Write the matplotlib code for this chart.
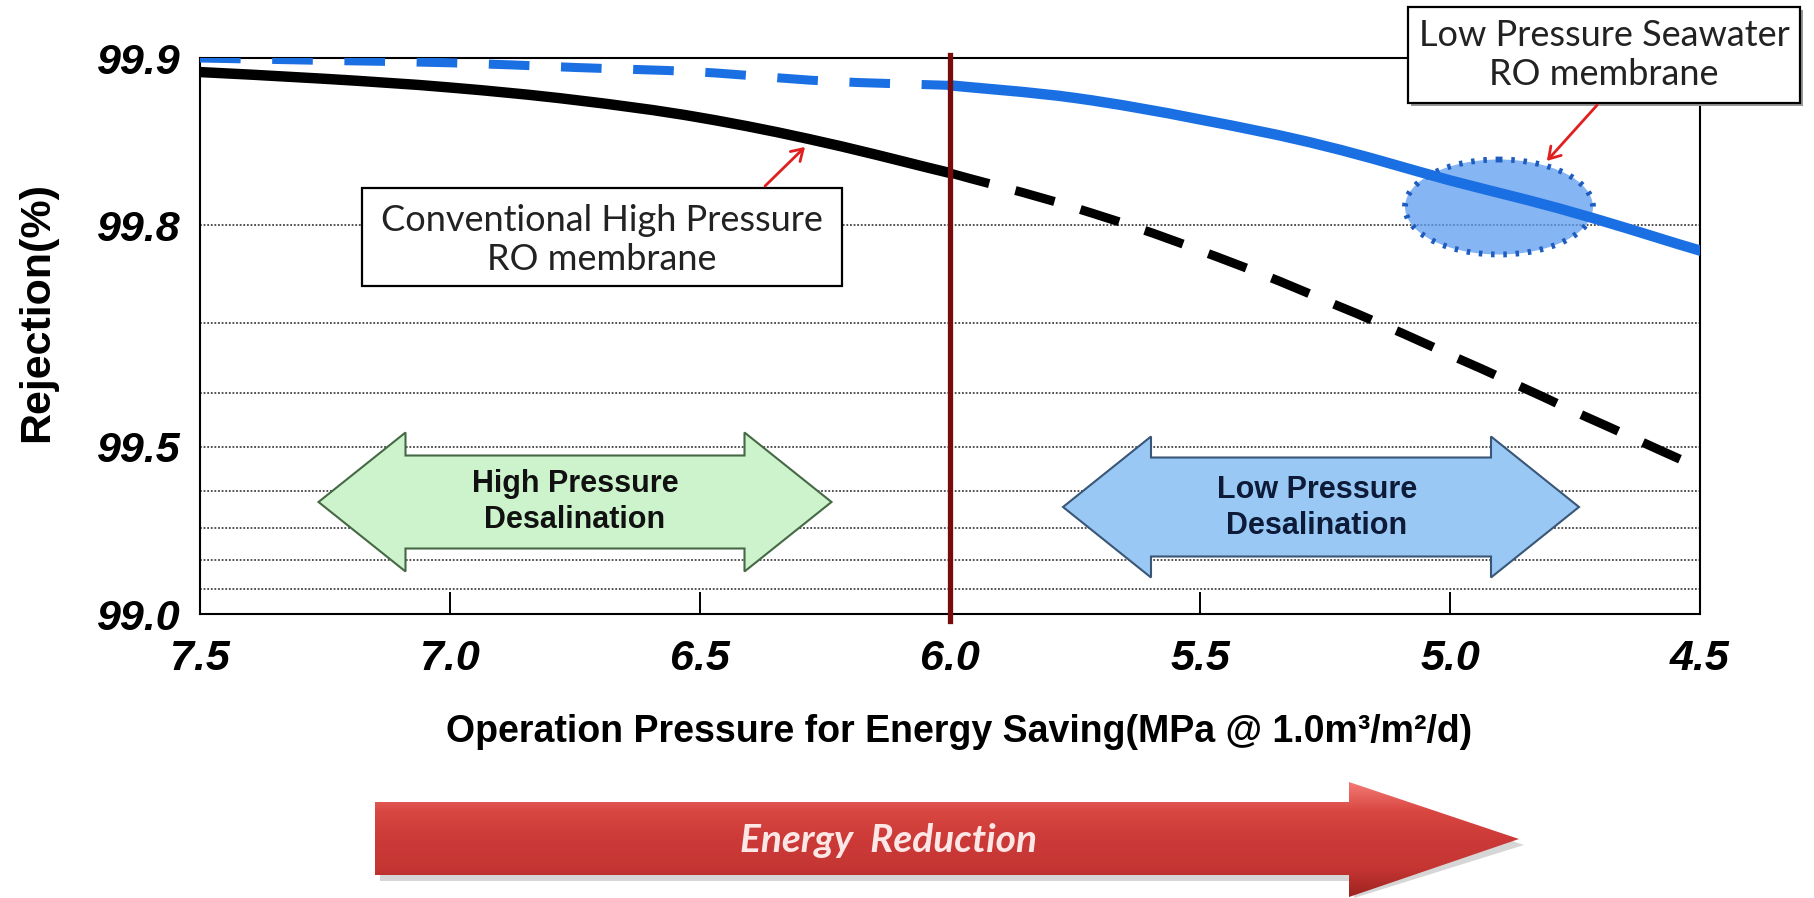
import numpy as np
import matplotlib
matplotlib.use("Agg")
import matplotlib.pyplot as plt
from matplotlib.patches import Polygon, Rectangle, Ellipse, FancyArrowPatch, PathPatch
from matplotlib.path import Path
from matplotlib.colors import LinearSegmentedColormap

# operation pressure (MPa) and salt rejection (%)
pressure = [7.5, 7.25, 7.0, 6.75, 6.5, 6.25, 6.0, 5.75, 5.5, 5.25, 5.0, 4.75, 4.5]
conventional = [99.894, 99.891, 99.887, 99.881, 99.872, 99.858, 99.839,
                99.814, 99.778, 99.727, 99.658, 99.567, 99.454]
low_pressure = [99.900, 99.899, 99.898, 99.896, 99.894, 99.890, 99.888,
                99.882, 99.871, 99.856, 99.834, 99.810, 99.778]
boundary = 6.0

x_ticks = [7.5, 7.0, 6.5, 6.0, 5.5, 5.0, 4.5]
y_ticks = [99.0, 99.5, 99.8, 99.9]
y_grid = [99.1, 99.2, 99.3, 99.4, 99.6, 99.7]

W, H = 1814, 898
fig = plt.figure(figsize=(W / 100, H / 100), dpi=100)
ax = fig.add_axes([200 / W, 1 - 614 / H, 1500 / W, 556 / H])

# y axis is logarithmic in salt passage (100 - rejection)
def fwd(r):
    return -np.log10(np.clip(100 - np.asarray(r, dtype=float), 1e-6, None))

def inv(v):
    return 100 - 10 ** (-np.asarray(v, dtype=float))

ax.set_yscale("function", functions=(fwd, inv))
ax.set_ylim(99.0, 99.9)
ax.set_xlim(7.5, 4.5)


def smooth_path(xs, ys):
    # smoothed line like the spreadsheet one: Catmull-Rom as cubic Bezier
    pts = np.column_stack([xs, ys])
    ext = np.vstack([pts[0], pts, pts[-1]])
    verts, codes = [pts[0]], [Path.MOVETO]
    for i in range(1, len(ext) - 2):
        p0, p1, p2, p3 = ext[i - 1], ext[i], ext[i + 1], ext[i + 2]
        verts += [p1 + (p2 - p0) / 6, p2 - (p3 - p1) / 6, p2]
        codes += [Path.CURVE4] * 3
    return Path(verts, codes)


p = np.array(pressure)
conv = np.array(conventional)
lp = np.array(low_pressure)
hi = p >= boundary
lo = p <= boundary

blue = "#1a6fe3"
styles = [
    (conv[hi], p[hi], dict(color="black", lw=7.5, capstyle="butt")),
    (conv[lo], p[lo], dict(color="black", lw=6.5, linestyle=(0, (4.5, 3)))),
    (lp[hi], p[hi], dict(color=blue, lw=6.5, linestyle=(0, (4.5, 3.5)))),
    (lp[lo], p[lo], dict(color=blue, lw=7.5, capstyle="round")),
]
for ys, xs, kw in styles:
    ax.add_patch(PathPatch(smooth_path(xs, ys), fill=False, zorder=4, **kw))

ax.axvline(boundary, ymin=-0.012, ymax=1.005, color="#780c0c", lw=3.8,
           clip_on=False, zorder=5)

ax.set_xticks(x_ticks)
ax.set_xticklabels([f"{v:.1f}" for v in x_ticks])
ax.set_yticks(y_ticks)
ax.set_yticklabels([f"{v:.1f}" for v in y_ticks])
ax.set_yticks(y_grid, minor=True)
ax.yaxis.set_minor_formatter(plt.NullFormatter())
ax.grid(True, axis="y", which="both", color="#444444", lw=1.3,
        linestyle=(0, (1, 1)))
ax.tick_params(axis="x", direction="in", length=16, width=1.4, pad=18,
               labelsize=31)
ax.tick_params(axis="y", which="both", length=0, pad=14, labelsize=31)
for lab in ax.get_xticklabels() + ax.get_yticklabels():
    lab.set_fontfamily("Liberation Sans")
    lab.set_fontweight("bold")
    lab.set_fontstyle("italic")
for s in ax.spines.values():
    s.set_linewidth(1.5)
    s.set_color("black")

ax.set_xlabel("Operation Pressure for Energy Saving(MPa @ 1.0m³/m²/d)",
              fontsize=27, fontweight="bold", family="Liberation Sans")
ax.xaxis.set_label_coords((959 - 200) / 1500, -(732 - 614) / 556)
ax.xaxis.label.set_va("center")
ax.set_ylabel("Rejection(%)", fontsize=31, fontweight="bold",
              family="Liberation Sans")
ax.yaxis.set_label_coords((37 - 200) / 1500, 1 - (312 - 58) / 556)
ax.yaxis.label.set_va("center")

# overlay in image pixels for the drawn annotations
ov = fig.add_axes([0, 0, 1, 1], zorder=3)
ov.set_xlim(0, W)
ov.set_ylim(H, 0)
ov.axis("off")
ov.patch.set_alpha(0)

ax.add_patch(Ellipse((1499, 207), 188, 95, transform=ov.transData,
                     facecolor="#5d9cf0", alpha=0.75, edgecolor="none", zorder=3))
ax.add_patch(Ellipse((1499, 207), 188, 95, transform=ov.transData,
                     facecolor="none", edgecolor="#1f5cc0", lw=4.2,
                     linestyle=(0, (0.6, 1.5)), zorder=3))


def double_arrow(cx, cy, length, shaft_h, head_h, head_len):
    x0, x1 = cx - length / 2, cx + length / 2
    return [(x0, cy), (x0 + head_len, cy - head_h / 2),
            (x0 + head_len, cy - shaft_h / 2), (x1 - head_len, cy - shaft_h / 2),
            (x1 - head_len, cy - head_h / 2), (x1, cy),
            (x1 - head_len, cy + head_h / 2), (x1 - head_len, cy + shaft_h / 2),
            (x0 + head_len, cy + shaft_h / 2), (x0 + head_len, cy + head_h / 2)]


ov.add_patch(Polygon(double_arrow(575, 502, 513, 93, 139, 87),
                     facecolor="#cdf3cd", edgecolor="#456845", lw=1.5))
ov.text(575, 502, "High Pressure\nDesalination", ha="center", va="center",
        fontsize=22, fontweight="bold", family="Liberation Sans",
        linespacing=1.25, color="#111111")
ov.add_patch(Polygon(double_arrow(1321, 507, 516, 99, 141, 88),
                     facecolor="#99c8f5", edgecolor="#3a5676", lw=1.5))
ov.text(1317, 508, "Low Pressure\nDesalination", ha="center", va="center",
        fontsize=22, fontweight="bold", family="Liberation Sans",
        linespacing=1.25, color="#0d1a38")

# callout boxes
ov.add_patch(Rectangle((362, 188), 480, 98, facecolor="white",
                       edgecolor="black", lw=1.6))
ov.text(602, 240, "Conventional High Pressure\nRO membrane", ha="center",
        va="center", fontsize=26, family="Lato", linespacing=1.2,
        color="#222222")
ov.add_patch(Rectangle((1411, 10), 392, 96, facecolor="#999999",
                       edgecolor="none"))
ov.add_patch(Rectangle((1408, 7), 392, 96, facecolor="white",
                       edgecolor="black", lw=1.6))
ov.text(1604, 55, "Low Pressure Seawater\nRO membrane", ha="center",
        va="center", fontsize=26, family="Lato", linespacing=1.2,
        color="#222222")

for tail, head in [((763, 188), (807, 145)), ((1599, 103), (1545, 163))]:
    ov.add_patch(FancyArrowPatch(tail, head, arrowstyle="->,head_length=8,head_width=5",
                                 color="#e01f1f", lw=2))

# energy reduction arrow with vertical shading
energy = Polygon([(375, 802), (1349, 802), (1349, 782), (1519, 839),
                  (1349, 897), (1349, 875), (375, 875)],
                 facecolor="none", edgecolor="none")
ov.add_patch(Polygon([(380, 808), (1354, 808), (1354, 788), (1524, 845),
                      (1354, 898), (1354, 881), (380, 881)],
                     facecolor="#bbbbbb", edgecolor="none", alpha=0.6,
                     zorder=0.5))
ov.add_patch(energy)
reds = LinearSegmentedColormap.from_list(
    "reds", ["#f47a74", "#d94742", "#cc3a38", "#c53633", "#9e2320"])
grad = np.linspace(0, 1, 128).reshape(-1, 1)
img = ov.imshow(grad, cmap=reds, aspect="auto", extent=(375, 1519, 897, 782),
                interpolation="bicubic", zorder=2)
img.set_clip_path(energy)
ov.set_xlim(0, W)
ov.set_ylim(H, 0)
ov.text(889, 841, "Energy  Reduction", ha="center", va="center", fontsize=28,
        style="italic", fontweight="bold", family="Lato", color="#fde6e6",
        zorder=3)

fig.savefig("out.png", dpi=100, facecolor="white")
